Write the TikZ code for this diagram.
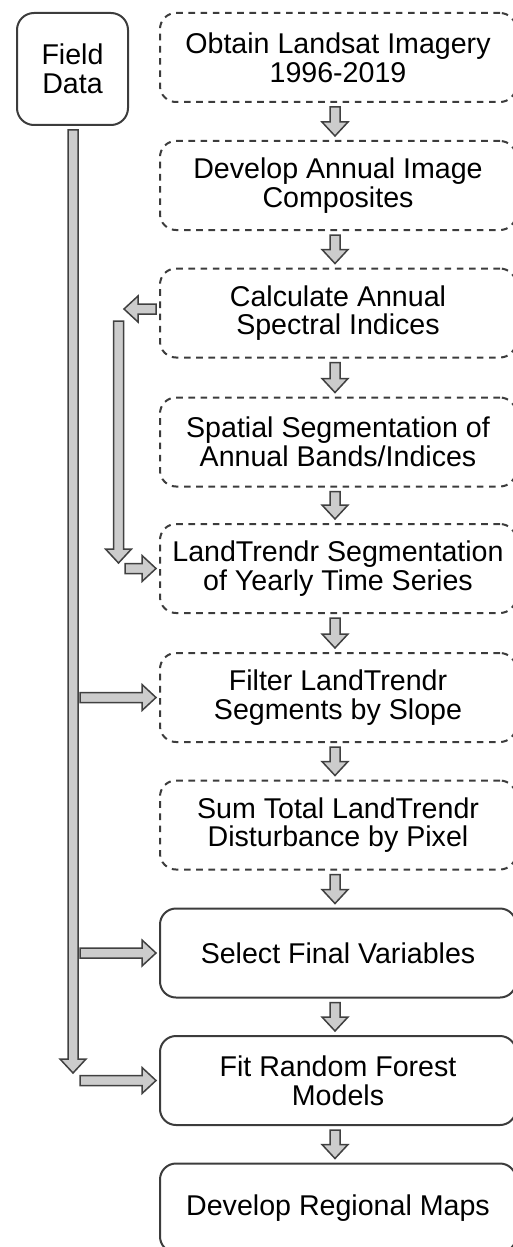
\documentclass[tikz,border=0pt]{standalone}
\usepackage{fontspec}
\setmainfont{Liberation Sans}
\usetikzlibrary{calc}

\definecolor{boxline}{HTML}{3C3C3C}
\definecolor{arrowline}{HTML}{404040}
\definecolor{arrowfill}{HTML}{CCCCCC}

\tikzset{
  stepbox/.style={draw=boxline, line width=1pt, rounded corners=8pt, minimum width=178pt, minimum height=44.5pt, inner sep=0pt, align=center, font=\fontsize{14.3}{14.3}\selectfont},
  dashbox/.style={stepbox, dash pattern=on 3.3pt off 2.8pt},
  sidebox/.style={stepbox, rounded corners=8.5pt, minimum width=55.5pt, minimum height=56pt},
  fat/.style={draw=arrowline, fill=arrowfill, line width=0.75pt, line join=miter,
    to path={let \p1=(\tikztostart), \p2=(\tikztotarget), \p3=($(\p2)!7pt!(\p1)$) in
      ($(\p1)!2.5pt!90:(\p2)$) -- ($(\p3)!2.5pt!90:(\p2)$) -- ($(\p3)!6.5pt!90:(\p2)$) -- (\p2)
      -- ($(\p3)!6.5pt!-90:(\p2)$) -- ($(\p3)!2.5pt!-90:(\p2)$) -- ($(\p1)!2.5pt!-90:(\p2)$) -- cycle}}
}

\begin{document}
\begin{tikzpicture}[x=0.5pt,y=-0.5pt]
\useasboundingbox (0,0) rectangle (513,1247);
\node[sidebox] (field) at (72.5,69) {Field\\Data};
\node[dashbox] (obtain) at (338,57.5) {Obtain Landsat Imagery\\1996-2019};
\node[dashbox] (composite) at (338,185.5) {Develop Annual Image\\Composites};
\node[dashbox] (indices) at (338,313) {Calculate Annual\\Spectral Indices};
\node[dashbox] (spatial) at (338,442) {Spatial Segmentation of\\Annual Bands/Indices};
\node[dashbox] (landtrendr) at (338,568.5) {LandTrendr Segmentation\\of Yearly Time Series};
\node[dashbox] (filter) at (338,697.5) {Filter LandTrendr\\Segments by Slope};
\node[dashbox] (sumtotal) at (338,825) {Sum Total LandTrendr\\Disturbance by Pixel};
\node[stepbox] (select) at (338,953) {Select Final Variables};
\node[stepbox] (fit) at (338,1080.5) {Fit Random Forest\\Models};
\node[stepbox] (maps) at (338,1208) {Develop Regional Maps};
\coordinate (fieldend) at (73,1073);
\coordinate (loopin) at (124,309);
\coordinate (looptop) at (118.5,321);
\coordinate (loopend) at (118.5,563);
\draw[fat] ([xshift=-1.5pt,yshift=-2pt]obtain.south) to ([xshift=-1.5pt,yshift=2pt]composite.north);
\draw[fat] ([xshift=-1.5pt,yshift=-2pt]composite.south) to ([xshift=-1.5pt,yshift=2pt]indices.north);
\draw[fat] ([xshift=-1.5pt,yshift=-2pt]indices.south) to ([xshift=-1.5pt,yshift=2pt]spatial.north);
\draw[fat] ([xshift=-1.5pt,yshift=-2pt]spatial.south) to ([xshift=-1.5pt,yshift=2pt]landtrendr.north);
\draw[fat] ([xshift=-1.5pt,yshift=-2pt]landtrendr.south) to ([xshift=-1.5pt,yshift=2pt]filter.north);
\draw[fat] ([xshift=-1.5pt,yshift=-2pt]filter.south) to ([xshift=-1.5pt,yshift=2pt]sumtotal.north);
\draw[fat] ([xshift=-1.5pt,yshift=-2pt]sumtotal.south) to ([xshift=-1.5pt,yshift=2pt]select.north);
\draw[fat] ([xshift=-1.5pt,yshift=-2pt]select.south) to ([xshift=-1.5pt,yshift=2pt]fit.north);
\draw[fat] ([xshift=-1.5pt,yshift=-2pt]fit.south) to ([xshift=-1.5pt,yshift=2pt]maps.north);
\draw[fat] ([xshift=0.25pt,yshift=-2pt]field.south) to (fieldend);
\draw[fat] ($(fieldend |- filter.west)+(7,0)$) to ([xshift=-1.5pt]filter.west);
\draw[fat] ($(fieldend |- select.west)+(7,0)$) to ([xshift=-1.5pt]select.west);
\draw[fat] ($(fieldend |- fit.west)+(7,0)$) to ([xshift=-1.5pt]fit.west);
\draw[fat] ([xshift=-1.5pt,yshift=2pt]indices.west) to (loopin);
\draw[fat] (looptop) to (loopend);
\draw[fat] ($(loopend |- landtrendr.west)+(6.5,0)$) to ([xshift=-1.5pt]landtrendr.west);
\end{tikzpicture}
\end{document}
